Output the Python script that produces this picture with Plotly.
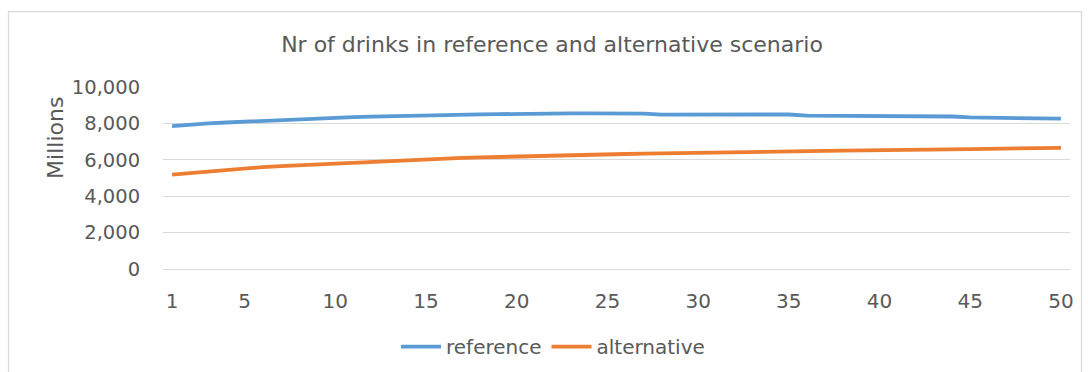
import plotly.graph_objects as go

# Scenario years and number of drinks (millions)
years = list(range(1, 51))
reference = [
    7850, 7950, 8000, 8050, 8100, 8140, 8180, 8230, 8260, 8300,
    8350, 8370, 8400, 8420, 8440, 8470, 8490, 8500, 8510, 8530,
    8550, 8550, 8550, 8550, 8550, 8550, 8540, 8480, 8480, 8490,
    8490, 8490, 8490, 8490, 8490, 8430, 8430, 8430, 8430, 8430,
    8390, 8380, 8380, 8380, 8330, 8320, 8320, 8320, 8270, 8260,
]
alternative = [
    5180, 5270, 5370, 5450, 5550, 5600, 5650, 5700, 5750, 5800,
    5850, 5900, 5950, 6000, 6020, 6070, 6110, 6130, 6160, 6180,
    6210, 6230, 6260, 6280, 6300, 6320, 6340, 6360, 6380, 6400,
    6420, 6430, 6440, 6450, 6470, 6480, 6490, 6500, 6520, 6540,
    6550, 6550, 6560, 6570, 6590, 6600, 6610, 6620, 6620, 6660,
]
x_ticks = [1, 5, 10, 15, 20, 25, 30, 35, 40, 45, 50]
y_ticks = [0, 2000, 4000, 6000, 8000, 10000]

W, H = 1088, 372
L, R, T, B = 163, 1070, 87, 269.3
TEXT = "#595959"
GRID = "#d9d9d9"
FONT = "DejaVu Sans"


def px(x):
    return (x - L) / (R - L)


def py(y):
    return (B - y) / (B - T)


fig = go.Figure()
fig.add_trace(go.Scatter(x=years, y=reference, mode="lines", name="reference",
                         line=dict(color="#5B9BD5", width=3.8)))
fig.add_trace(go.Scatter(x=years, y=alternative, mode="lines", name="alternative",
                         line=dict(color="#ED7D31", width=3.8)))

fig.update_layout(
    width=W, height=H,
    margin=dict(l=L, r=W - R, t=T, b=H - B, autoexpand=False),
    paper_bgcolor="white", plot_bgcolor="white",
    font=dict(family=FONT, color=TEXT, size=18),
    title=dict(text="Nr of drinks in reference and alternative scenario",
               x=px(552), xref="paper", xanchor="center",
               y=1 - 44 / H, yref="container", yanchor="middle",
               font=dict(size=22, color=TEXT, family=FONT)),
    showlegend=True,
    legend=dict(orientation="h", x=px(553), xanchor="center",
                y=py(347), yanchor="middle",
                font=dict(size=20, color=TEXT, family=FONT),
                itemwidth=40, tracegroupgap=0, bgcolor="rgba(0,0,0,0)"),
    xaxis=dict(range=[0.5, 50.5], tickvals=x_ticks, ticktext=[str(v) for v in x_ticks],
               showgrid=False, zeroline=False,
               showline=True, linecolor=GRID, linewidth=1.3,
               ticks="outside", ticklen=14, tickcolor="rgba(0,0,0,0)",
               tickfont=dict(size=20, color=TEXT, family=FONT)),
    yaxis=dict(range=[0, 10000], tickvals=y_ticks, tickformat=",d",
               showgrid=True, gridcolor=GRID, gridwidth=1.3,
               zeroline=False, showline=False,
               ticks="outside", ticklen=18, tickcolor="rgba(0,0,0,0)",
               tickfont=dict(size=19.5, color=TEXT, family=FONT)),
    annotations=[dict(text="Millions", textangle=-90, xref="paper", yref="paper",
                      x=px(56), y=py(138), xanchor="center", yanchor="middle",
                      showarrow=False, font=dict(size=22, color=TEXT, family=FONT))],
    shapes=[dict(type="rect", xref="paper", yref="paper",
                 x0=px(8.5), x1=px(1081.5), y0=py(400), y1=py(11.5),
                 line=dict(color=GRID, width=1.3), layer="below")],
)

fig.write_html("out.html")
